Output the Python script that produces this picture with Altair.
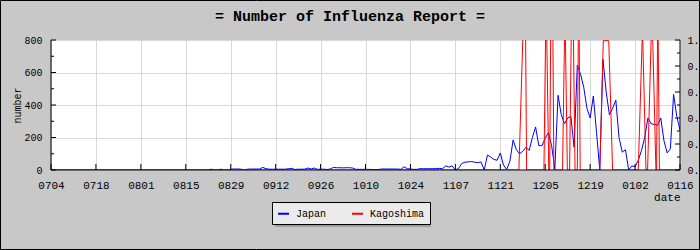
import altair as alt
import pandas as pd

# ---------------- data ----------------
# Japan, daily reports 0704 .. 0116 (197 days), x = day number from 0704
japan = [
    5, 0, 0, 0, 0, 0, 0, 0, 0, 0, 0, 0, 0, 0, 0, 0, 0, 0, 0, 0,
    0, 0, 0, 0, 0, 0, 0, 0, 0, 0, 0, 0, 0, 0, 0, 0, 0, 0, 0, 0,
    0, 0, 0, 0, 0, 0, 0, 0, 0, 0, 5, 0, 0, 5, 0, 0, 5, 6, 6, 6,
    0, 4, 6, 6, 6, 6, 16, 8, 5, 5, 5, 5, 5, 5, 8, 10, 3, 5, 5, 5,
    12, 6, 12, 4, 5, 5, 3, 6, 16, 14, 14, 13, 14, 14, 12, 4, 4, 4, 4, 4,
    3, 3, 3, 6, 6, 6, 6, 6, 6, 4, 20, 8, 6, 4, 4, 8, 8, 8, 8, 8,
    8, 10, 8, 25, 18, 25, 0, 10, 40, 48, 50, 52, 48, 45, 50, 0, 92, 80, 65, 60,
    105, 30, 3, 55, 185, 125, 100, 115, 140, 120, 200, 265, 150, 150, 195, 230, 150, 5, 460, 340,
    285, 320, 330, 140, 645, 590, 510, 380, 320, 455, 230, 0, 680, 480, 340, 380, 430, 200, 110, 125,
    0, 25, 20, 60, 120, 200, 320, 285, 280, 275, 320, 180, 105, 130, 465, 330, 246,
]

# Kagoshima (right axis), points given as day number from 0704 and value
kago_day = [
    0,
    145.8, 147.0, 147.45, 147.9, 148.2,
    153.6, 154.1, 154.3, 154.5, 155.1,
    155.4, 155.7, 156.05, 156.4, 156.7,
    159.4, 160.0, 160.15, 160.3, 160.9,
    161.6, 162.1, 162.45, 162.8, 163.3,
    164.0, 164.3, 164.45, 164.6, 164.9,
    171.0, 172.1, 173.8, 175.0,
    183.0, 184.2, 184.3, 184.4, 185.4,
    185.9, 187.0, 187.25, 187.5, 188.5,
    188.7, 189.0, 189.1, 189.2, 189.6,
    196,
]
kago_val = [
    0,
    0, 1.0, 3, 1.0, 0,
    0, 1.0, 3, 1.0, 0,
    0, 1.0, 3, 1.0, 0,
    0, 1.0, 3, 1.0, 0,
    0, 1.0, 3, 1.0, 0,
    0, 1.0, 3, 1.0, 0,
    0, 0.995, 0.995, 0,
    0, 1.0, 3, 1.0, 0,
    0, 1.0, 3, 1.0, 0,
    0, 1.0, 3, 1.0, 0,
    0,
]

x_tick_labels = ["0704", "0718", "0801", "0815", "0829", "0912", "0926", "1010",
                 "1024", "1107", "1121", "1205", "1219", "0102", "0116"]
x_tick_days = [0, 14, 28, 42, 56, 70, 84, 98, 112, 126, 140, 154, 168, 182, 196]
left_major = [0, 200, 400, 600, 800]
left_minor = [100, 300, 500, 700]
right_major = [0, 0.2, 0.4, 0.6, 0.8, 1.0]
right_minor = [0.1, 0.3, 0.5, 0.7, 0.9]
series_names = ["Japan", "Kagoshima"]
series_colors = ["#0000ff", "#ff0000"]
title_text = "= Number of Influenza Report ="

# ---------------- frames ----------------
jp_df = pd.DataFrame({"day": list(range(len(japan))), "value": japan, "series": "Japan"})
kg_df = pd.DataFrame({"day": kago_day, "value": kago_val, "series": "Kagoshima"})
ticks_df = pd.DataFrame({"day": x_tick_days})
edges_df = pd.DataFrame({"day": [x_tick_days[0], x_tick_days[-1]]})
one = pd.DataFrame({"a": [0]})

label_map = "{" + ", ".join(f"'{d}': '{l}'" for d, l in zip(x_tick_days, x_tick_labels)) + "}"

FONT = "Liberation Mono"
GRID = "#d9d9d9"

xscale = alt.Scale(domain=[x_tick_days[0], x_tick_days[-1]], nice=False, zero=False)
lscale = alt.Scale(domain=[0, 800], nice=False)
rscale = alt.Scale(domain=[0, 1], nice=False)
cscale = alt.Scale(domain=series_names, range=series_colors)

xaxis = alt.Axis(
    values=x_tick_days, labelExpr=label_map + "[datum.value]", orient="bottom",
    labelFont=FONT, labelFontSize=11, labelColor="black",
    labelPadding=9, labelFlush=False, labelOverlap=False, ticks=False, domain=False,
    grid=True, gridColor=GRID, title="date", titleFont=FONT, titleFontSize=11,
    titleFontWeight="normal", titleColor="black", titleAnchor="end", titleAlign="right",
    titleBaseline="top", titlePadding=1,
)
yaxis = alt.Axis(
    values=left_major, labelFont=FONT, labelFontSize=10, labelColor="black",
    labelPadding=9, ticks=False, domain=False, grid=True, gridColor=GRID,
    title="number", titleFont=FONT, titleFontSize=10, titleFontWeight="normal",
    titleColor="black", titlePadding=1, orient="left",
)
raxis = alt.Axis(
    values=right_major, labelExpr="datum.value >= 1 ? '1.' : '0.'",
    labelFont=FONT, labelFontSize=10, labelColor="black", labelPadding=7,
    ticks=False, domain=False, grid=False, title=None, orient="right",
)
legend = alt.Legend(
    title=None, orient="none", legendX=221, legendY=162, direction="horizontal",
    symbolType="stroke", symbolSize=121, symbolStrokeWidth=2,
    labelFont=FONT, labelFontSize=10, labelColor="black",
    fillColor="#ebebeb", strokeColor="black", padding=5, labelOffset=6,
    columnPadding=21,
)

shadow = alt.Chart(one).mark_rect(color="#a0a0a0").encode(
    x=alt.value(224), x2=alt.value(380), y=alt.value(165), y2=alt.value(187))
blue = alt.Chart(jp_df).mark_line(strokeWidth=1, clip=True).encode(
    x=alt.X("day:Q", scale=xscale, axis=xaxis),
    y=alt.Y("value:Q", scale=lscale, axis=yaxis),
    color=alt.Color("series:N", scale=cscale, legend=legend),
)
lmaj = alt.Chart(pd.DataFrame({"v": left_major})).mark_rule(color="black").encode(
    y=alt.Y("v:Q", scale=lscale, axis=None), x=alt.value(0), x2=alt.value(5))
lmin = alt.Chart(pd.DataFrame({"v": left_minor})).mark_rule(color="black").encode(
    y=alt.Y("v:Q", scale=lscale, axis=None), x=alt.value(0), x2=alt.value(3))
red = alt.Chart(kg_df).mark_line(strokeWidth=1, clip=True).encode(
    x=alt.X("day:Q", scale=xscale, axis=None),
    y=alt.Y("value:Q", scale=rscale, axis=raxis),
    color=alt.Color("series:N", scale=cscale, legend=None),
)
rmaj = alt.Chart(pd.DataFrame({"v": right_major})).mark_rule(color="black").encode(
    y=alt.Y("v:Q", scale=rscale, axis=None), x=alt.value(624), x2=alt.value(629))
rmin = alt.Chart(pd.DataFrame({"v": right_minor})).mark_rule(color="black").encode(
    y=alt.Y("v:Q", scale=rscale, axis=None), x=alt.value(626), x2=alt.value(629))
xt = alt.Chart(ticks_df).mark_rule(color="black").encode(
    x=alt.X("day:Q", scale=xscale, axis=None), y=alt.value(124), y2=alt.value(130))
bottom = alt.Chart(pd.DataFrame({"v": [0]})).mark_rule(color="black").encode(
    y=alt.Y("v:Q", scale=rscale, axis=None))
sides = alt.Chart(edges_df).mark_rule(color="black").encode(
    x=alt.X("day:Q", scale=xscale, axis=None))
title = alt.Chart(one).mark_text(
    font=FONT, fontSize=15, fontWeight="bold", color="black", align="center",
    baseline="alphabetic",
).encode(x=alt.value(299), y=alt.value(-19), text=alt.value(title_text))
border = alt.Chart(one).mark_rect(filled=False, stroke="black", strokeWidth=1).encode(
    x=alt.value(-50.5), x2=alt.value(648.5), y=alt.value(-39.5), y2=alt.value(209.5))

chart = alt.layer(
    shadow, blue, lmaj, lmin, red, rmaj, rmin, xt, bottom, sides, title, border
).resolve_scale(x="independent", y="independent").properties(
    width=629, height=130,
    padding={"left": 51, "top": 40, "right": 20, "bottom": 80},
    autosize=alt.AutoSizeParams(type="none"),
    background="#c8c8c8",
).configure_view(fill="white", stroke=None)

chart.save("out.html", embed_options={"renderer": "svg", "actions": False})
